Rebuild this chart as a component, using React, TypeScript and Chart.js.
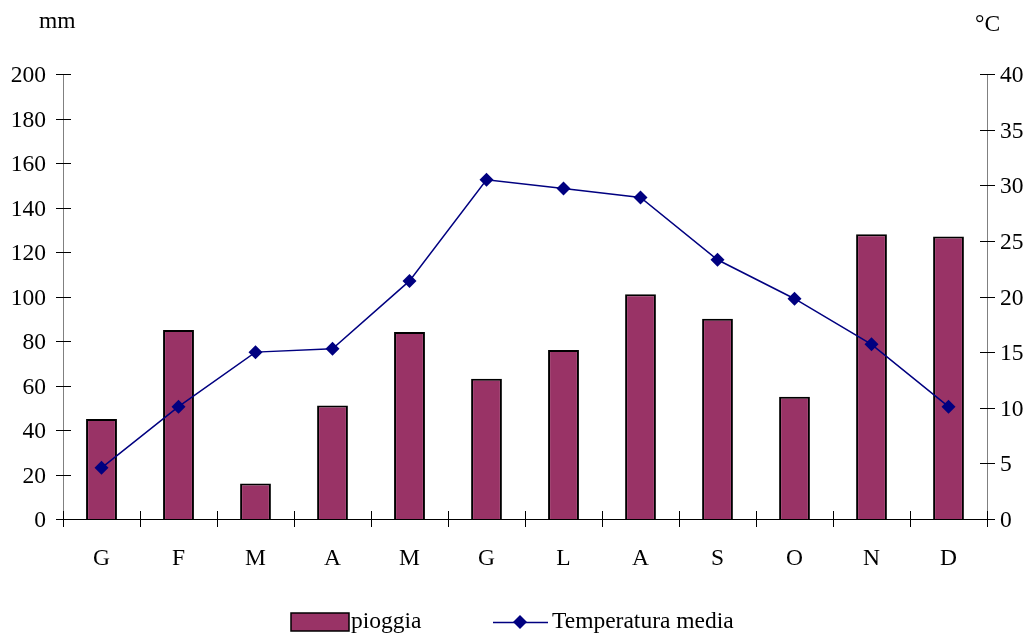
import React, { useEffect, useRef } from "react";
import { Chart, registerables } from "chart.js";

Chart.register(...registerables);

const months = ["G", "F", "M", "A", "M", "G", "L", "A", "S", "O", "N", "D"];
const pioggia = [45, 85, 16, 51, 84, 63, 76, 101, 90, 55, 128, 127];
const temperatura = [4.6, 10.1, 15.0, 15.3, 21.4, 30.5, 29.7, 28.9, 23.3, 19.8, 15.7, 10.1];
const rainTicks = [0, 20, 40, 60, 80, 100, 120, 140, 160, 180, 200];
const tempTicks = [0, 5, 10, 15, 20, 25, 30, 35, 40];

const FONT = '23.5px "Liberation Serif", "Times New Roman", serif';
const BAR_COLOR = "#993366";
const LINE_COLOR = "#000080";

// Draws axes with crossing tick marks, tick labels, unit captions and the legend.
const axesPlugin = {
  id: "axesPlugin",
  afterDatasetsDraw(chart: any) {
    const ctx = chart.ctx;
    const area = chart.chartArea;
    const y = chart.scales.y;
    const y1 = chart.scales.y1;
    const x = chart.scales.x;
    ctx.save();
    ctx.font = FONT;
    ctx.fillStyle = "#000";

    // vertical axes
    ctx.strokeStyle = "#808080";
    ctx.lineWidth = 1;
    ctx.beginPath();
    ctx.moveTo(area.left + 0.5, area.top);
    ctx.lineTo(area.left + 0.5, area.bottom);
    ctx.moveTo(area.right + 0.5, area.top);
    ctx.lineTo(area.right + 0.5, area.bottom);
    ctx.stroke();

    ctx.strokeStyle = "#000";
    ctx.textAlign = "right";
    ctx.textBaseline = "middle";
    rainTicks.forEach((v) => {
      const py = Math.round(y.getPixelForValue(v)) + 0.5;
      ctx.beginPath();
      ctx.moveTo(area.left - 7, py);
      ctx.lineTo(area.left + 8, py);
      ctx.stroke();
      ctx.fillText(String(v), area.left - 17, py + 1);
    });

    ctx.textAlign = "left";
    tempTicks.forEach((v) => {
      const py = Math.round(y1.getPixelForValue(v)) + 0.5;
      ctx.beginPath();
      ctx.moveTo(area.right - 7, py);
      ctx.lineTo(area.right + 8, py);
      ctx.stroke();
      ctx.fillText(String(v), area.right + 13, py + 1);
    });

    // bottom axis
    ctx.beginPath();
    ctx.moveTo(area.left, Math.round(area.bottom) + 0.5);
    ctx.lineTo(area.right, Math.round(area.bottom) + 0.5);
    ctx.stroke();
    const step = (area.right - area.left) / months.length;
    for (let i = 0; i <= months.length; i++) {
      const px = Math.round(area.left + i * step) + 0.5;
      ctx.beginPath();
      ctx.moveTo(px, area.bottom - 8);
      ctx.lineTo(px, area.bottom + 8);
      ctx.stroke();
    }
    ctx.textAlign = "center";
    months.forEach((m, i) => {
      ctx.fillText(m, x.getPixelForValue(i), area.bottom + 40);
    });

    // unit captions
    ctx.textAlign = "left";
    ctx.fillText("mm", 39, 22);
    ctx.fillText("°C", 975, 25);

    // legend
    const ly = 622;
    ctx.fillStyle = BAR_COLOR;
    ctx.fillRect(291, 613, 58, 18);
    ctx.strokeStyle = "#000";
    ctx.lineWidth = 1.5;
    ctx.strokeRect(291, 613, 58, 18);
    ctx.fillStyle = "#000";
    ctx.fillText("pioggia", 351, ly);

    ctx.strokeStyle = LINE_COLOR;
    ctx.lineWidth = 1.5;
    ctx.beginPath();
    ctx.moveTo(493, ly + 0.5);
    ctx.lineTo(548, ly + 0.5);
    ctx.stroke();
    ctx.fillStyle = LINE_COLOR;
    ctx.beginPath();
    ctx.moveTo(520, ly - 7);
    ctx.lineTo(527, ly);
    ctx.lineTo(520, ly + 7);
    ctx.lineTo(513, ly);
    ctx.closePath();
    ctx.fill();
    ctx.fillStyle = "#000";
    ctx.fillText("Temperatura media", 552, ly);
    ctx.restore();
  },
};

export default function App() {
  const ref = useRef<HTMLCanvasElement>(null);

  useEffect(() => {
    document.body.style.margin = "0";
    const chart = new Chart(ref.current!, {
      type: "bar",
      data: {
        labels: months,
        datasets: [
          {
            type: "line",
            label: "Temperatura media",
            data: temperatura,
            yAxisID: "y1",
            borderColor: LINE_COLOR,
            backgroundColor: LINE_COLOR,
            borderWidth: 1.5,
            pointStyle: "rectRot",
            pointRadius: 7,
            pointBorderWidth: 0,
            pointBackgroundColor: LINE_COLOR,
            tension: 0,
            order: 0,
          },
          {
            type: "bar",
            label: "pioggia",
            data: pioggia,
            yAxisID: "y",
            backgroundColor: BAR_COLOR,
            borderColor: "#000",
            borderWidth: 2,
            categoryPercentage: 1,
            barPercentage: 0.4,
            order: 1,
          },
        ],
      },
      options: {
        animation: false,
        responsive: false,
        layout: { padding: { left: 63, right: 44, top: 74, bottom: 116 } },
        plugins: { legend: { display: false }, tooltip: { enabled: false } },
        scales: {
          x: { display: false, offset: true },
          y: { display: false, min: 0, max: 200 },
          y1: { display: false, min: 0, max: 40, position: "right" },
        },
      },
      plugins: [axesPlugin],
    });
    return () => chart.destroy();
  }, []);

  return <canvas ref={ref} width={1031} height={635} style={{ display: "block" }} />;
}
